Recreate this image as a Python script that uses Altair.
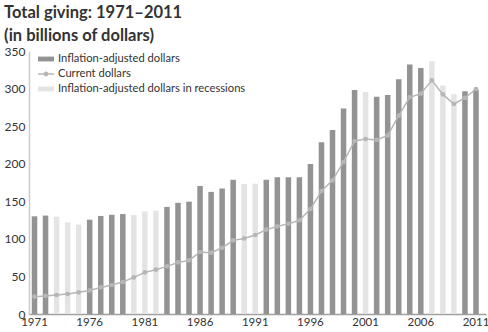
import altair as alt
import pandas as pd

years = list(range(1971, 2012))
adjusted = [130, 131, 129.5, 122, 119, 125.5, 130.5, 132, 133, 132,
            136.5, 137.5, 142.5, 148, 149.5, 170.5, 162.5, 167, 178.5, 173,
            173.5, 178.5, 182, 182, 182, 199.5, 228.5, 245, 273.5, 298,
            295.5, 289, 291.5, 312.5, 332, 327.5, 336.5, 304, 292.5, 296.5, 298.5]
current = [23, 24, 25.3, 26.6, 28.8, 31.4, 35.4, 38.6, 42.6, 48.7,
           55.4, 59, 63.4, 68.7, 71.3, 82.5, 81.6, 88.2, 98, 100.6,
           105.1, 112.2, 116.6, 120.2, 124.6, 139.7, 163.7, 177.8, 202.3, 230.2,
           232.9, 231.6, 237.7, 263.9, 288.3, 293.2, 310.9, 292.3, 279.5, 287.5, 299.4]
recession_years = [1973, 1974, 1975, 1980, 1981, 1982, 1990, 1991, 2001, 2007, 2008, 2009]
x_labels = [1971, 1976, 1981, 1986, 1991, 1996, 2001, 2006, 2011]
y_ticks = [0, 50, 100, 150, 200, 250, 300, 350]

S_ADJ = "Inflation-adjusted dollars"
S_CUR = "Current dollars"
S_REC = "Inflation-adjusted dollars in recessions"

df = pd.DataFrame({
    "year": years,
    "adjusted": adjusted,
    "current": current,
    "series": [S_REC if y in recession_years else S_ADJ for y in years],
})

FONT = "Lato"
DARK = "#939393"
LIGHT = "#e4e4e4"
LINE = "#b6b6b6"

x = alt.X("year:O",
          scale=alt.Scale(paddingInner=0.5, paddingOuter=0.453, align=0.275),
          axis=alt.Axis(values=x_labels, labelAngle=0, title=None, ticks=False,
                        domainColor="#a0a0a0", domainWidth=1.5,
                        labelFont=FONT, labelFontSize=11.5, labelColor="#333333",
                        labelPadding=2, labelOverlap=False))

y_axis = alt.Axis(values=y_ticks, title=None, ticks=False, grid=False,
                  domainColor="#cccccc", domainWidth=1.5,
                  labelFont=FONT, labelFontSize=12, labelColor="#333333",
                  labelPadding=4, labelOverlap=False)
y_scale = alt.Scale(domain=[0, 350], nice=False)

rect_path = "M-1,-0.3H1V0.3H-1Z"
line_path = "M-1,-0.08H1V0.08H-1Z M0.3,0A0.3,0.3 0 1 1 -0.3,0A0.3,0.3 0 1 1 0.3,0Z"

bars = alt.Chart(df).mark_bar().encode(
    x=x,
    y=alt.Y("adjusted:Q", scale=y_scale, axis=y_axis),
    color=alt.Color("series:N",
                    scale=alt.Scale(domain=[S_ADJ, S_CUR, S_REC], range=[DARK, LINE, LIGHT]),
                    legend=alt.Legend(
                        title=None, orient="none", legendX=9, legendY=0,
                        labelFont=FONT, labelFontSize=11.2, labelColor="#333333",
                        labelLimit=400,
                        symbolType={"expr": f"datum.label == '{S_CUR}' ? '{line_path}' : '{rect_path}'"},
                        symbolSize=256, symbolStrokeWidth=0, rowPadding=1,
                        labelOffset=4)),
)

line = alt.Chart(df).mark_line(
    color=LINE, strokeWidth=1.5,
    point=alt.OverlayMarkDef(filled=True, size=22, color=LINE),
).encode(x=x, y=alt.Y("current:Q", scale=y_scale, axis=y_axis))

chart = alt.layer(bars, line).properties(
    width=457, height=263,
    autosize=alt.AutoSizeParams(type="none"),
    padding={"left": 29, "top": 51, "right": 2, "bottom": 18},
    title=alt.Title(["Total giving: 1971–2011", "(in billions of dollars)"],
                    anchor="start", font=FONT, fontSize=16.5, fontWeight="bold",
                    color="#333333", lineHeight=23, offset=1),
).configure_view(stroke=None)

chart.save("out.html", embed_options={"renderer": "svg", "actions": False})
